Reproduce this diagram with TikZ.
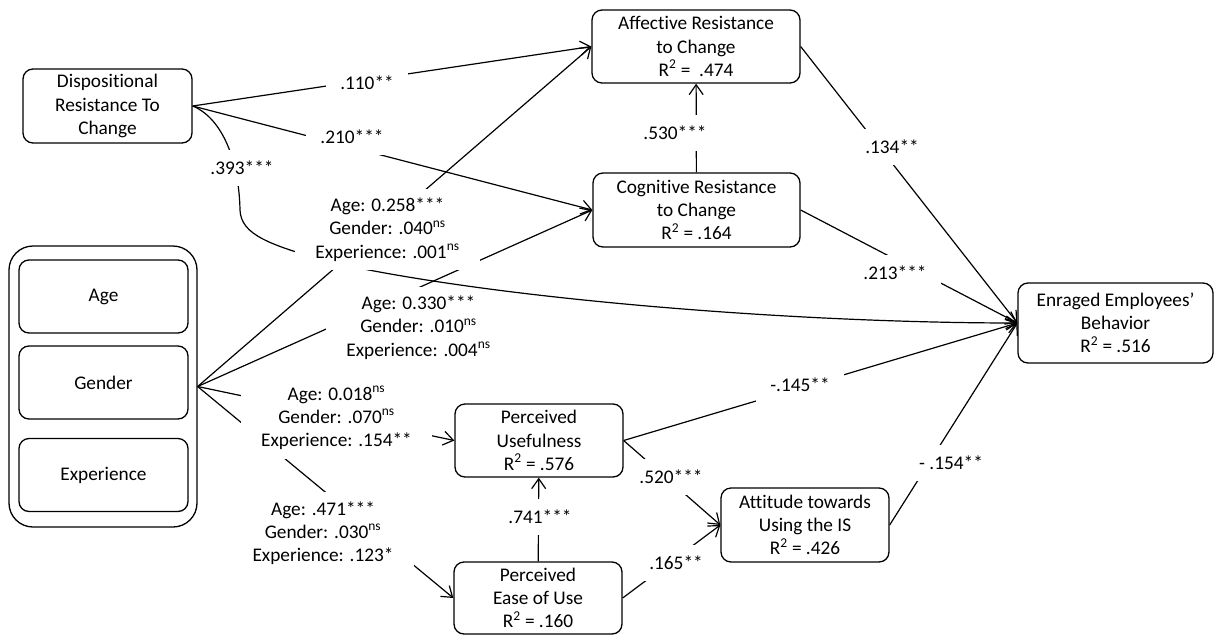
\documentclass[tikz,border=0pt]{standalone}
\usepackage{fontspec}
\setmainfont[Ligatures=NoCommon]{Carlito}
\usetikzlibrary{arrows.meta}
\begin{document}
\begin{tikzpicture}[x=1pt,y=-1pt,
  every node/.style={font=\fontsize{19.3}{23.2}\selectfont},
  box/.style={draw, line width=1.3pt, rounded corners=10pt, align=center, inner sep=0pt},
  grpbox/.style={draw, line width=1.3pt, rounded corners=24pt, minimum width=188pt, minimum height=281pt, inner sep=0pt},
  link/.style={line width=1.2pt, -{Straight Barb[length=10pt,width=14pt,line width=1.2pt]}},
  coef/.style={fill=white, inner xsep=14pt, inner ysep=11pt, align=center},
  modr/.style={fill=white, inner xsep=20pt, inner ysep=9pt, align=center},
]
\useasboundingbox (0,0) rectangle (1215,635);

% constructs
\node[box, minimum width=169pt, minimum height=74pt] (disp) at (107.5,106) {Dispositional\\Resistance To\\Change};
\node[box, minimum width=208pt, minimum height=73pt] (aff) at (696,46.5) {Affective Resistance\\to Change\\R\textsuperscript{2} = \ .474};
\node[box, minimum width=207pt, minimum height=74pt] (cog) at (696.5,210) {Cognitive Resistance\\to Change\\R\textsuperscript{2} = .164};
\node[box, minimum width=195pt, minimum height=80pt] (enr) at (1115.5,323) {Enraged Employees’\\Behavior\\R\textsuperscript{2} = .516};
\node[box, minimum width=168pt, minimum height=73pt] (pu) at (539,440.5) {Perceived\\Usefulness\\R\textsuperscript{2} = .576};
\node[box, minimum width=168pt, minimum height=72pt] (peou) at (538,598) {Perceived\\Ease of Use\\R\textsuperscript{2} = .160};
\node[box, minimum width=168pt, minimum height=74pt] (att) at (805,525) {Attitude towards\\Using the IS\\R\textsuperscript{2} = .426};

% control variables group
\node[grpbox] (grp) at (103,386.5) {};
\node[box, minimum width=169pt, minimum height=73pt] (age) at (103.5,296.5) {Age};
\node[box, minimum width=169pt, minimum height=73pt] (gen) at (103.5,382.5) {Gender};
\node[box, minimum width=169pt, minimum height=73pt] (exp) at (103.5,475) {Experience};

% paths
\draw[link] (disp.east) -- (aff.west);
\draw[link] (disp.east) -- (cog.west);
\draw[link] (grp.east) -- (aff.west);
\draw[link] (grp.east) -- (cog.west);
\draw[link] (grp.east) -- (pu.west);
\draw[link] (grp.east) -- (peou.west);
\draw[link] (cog) -- (aff);
\draw[link] (peou) -- (pu);
\draw[link] (aff.east) -- (enr.west);
\draw[link] (cog.east) -- (enr.west);
\draw[link] (pu.east) -- (enr.west);
\draw[link] (pu.east) -- (att.west);
\draw[link] (peou.east) -- (att.west);
\draw[link] (att.east) -- (enr.west);

\node[modr] (m2) at (418.5,327.5) {Age: 0.330***\\Gender: .010\textsuperscript{ns}\\Experience: .004\textsuperscript{ns}};

% direct path from dispositional resistance to behavior
\draw[link] (disp.east) .. controls (222,118) and (239,160) .. (240,210)
  .. controls (241,235) and (270,245) .. (330,262)
  .. controls (500,300) and (800,323) .. (enr.west);

% coefficients
\node[coef] (c110) at (367,83) {.110**};
\node[coef] (c210) at (352,137) {.210***};
\node[coef] (c393) at (242,168) {.393***};
\node[modr] (m1) at (387.5,229.5) {Age: 0.258***\\Gender: .040\textsuperscript{ns}\\Experience: .001\textsuperscript{ns}};
\node[modr] (m3) at (336.5,418) {Age: 0.018\textsuperscript{ns}\\Gender: .070\textsuperscript{ns}\\Experience: .154**};
\node[modr] (m4) at (323,533) {Age: .471***\\Gender: .030\textsuperscript{ns}\\Experience: .123*};
\node[coef] (c530) at (675,133) {.530***};
\node[coef] (c134) at (892,147) {.134**};
\node[coef] (c213) at (895,273) {.213***};
\node[coef] (c145) at (800,385) {-.145**};
\node[coef] (c520) at (671,477) {.520***};
\node[coef] (c165) at (676,563) {.165**};
\node[coef] (c741) at (540,517) {.741***};
\node[coef] (c154) at (951,463) {- .154**};
\end{tikzpicture}
\end{document}
